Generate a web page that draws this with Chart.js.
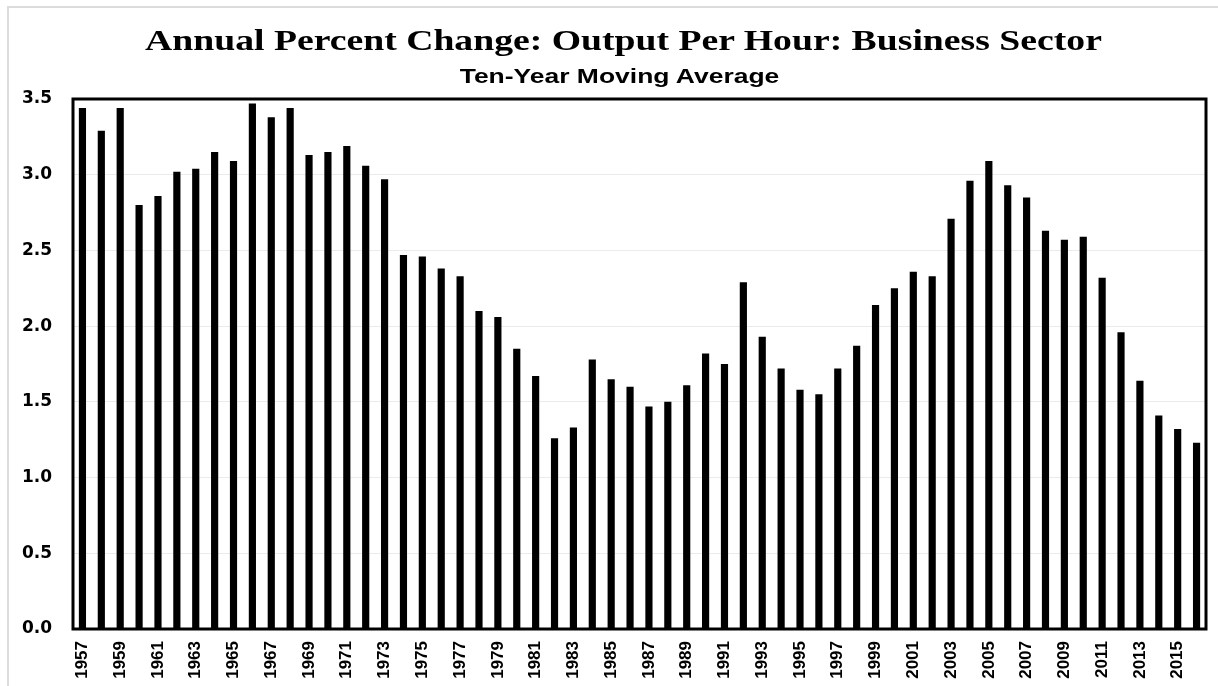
<!DOCTYPE html>
<html>
<head>
<meta charset="utf-8">
<title>Output Per Hour: Business Sector</title>
<script src="https://cdn.jsdelivr.net/npm/chart.js@4.4.1/dist/chart.umd.min.js"></script>
<style>
  html, body { margin: 0; padding: 0; background: #fff; }
  #wrap { position: relative; width: 1218px; height: 686px; overflow: hidden; }
  #frame { position: absolute; left: 7px; top: 6px; width: 1400px; height: 900px;
           border-top: 2px solid #dcdcdc; border-left: 2px solid #dcdcdc; }
  canvas { position: absolute; left: 0; top: 0; }
  .head { position: absolute; left: 0; text-align: center; color: #000; font-weight: bold;
          line-height: 1; white-space: nowrap; }
  #title { top: 26px; width: 1247px; font: bold 29px/1 "Liberation Serif", "Times New Roman", serif;
           transform: scaleX(1.3); }
  #subtitle { top: 65px; width: 1239px; font: bold 21px/1 "Liberation Sans", Arial, sans-serif;
              transform: scaleX(1.26); }
</style>
</head>
<body>
<div id="wrap">
  <div id="frame"></div>
  <canvas id="chart" width="1218" height="686"></canvas>
  <div id="title" class="head"></div>
  <div id="subtitle" class="head"></div>
</div>
<script>
var years = [];
for (var y = 1957; y <= 2016; y++) years.push(String(y));

// ten-year moving average, % change
var outputPerHour = [
  3.44, 3.29, 3.44, 2.80, 2.86, 3.02, 3.04, 3.15, 3.09, 3.47,
  3.38, 3.44, 3.13, 3.15, 3.19, 3.06, 2.97, 2.47, 2.46, 2.38,
  2.33, 2.10, 2.06, 1.85, 1.67, 1.26, 1.33, 1.78, 1.65, 1.60,
  1.47, 1.50, 1.61, 1.82, 1.75, 2.29, 1.93, 1.72, 1.58, 1.55,
  1.72, 1.87, 2.14, 2.25, 2.36, 2.33, 2.71, 2.96, 3.09, 2.93,
  2.85, 2.63, 2.57, 2.59, 2.32, 1.96, 1.64, 1.41, 1.32, 1.23
];

var yMin = 0;
var yMax = 3.5;
var yStep = 0.5;

var titleText = 'Annual Percent Change: Output Per Hour: Business Sector';
var subtitleText = 'Ten-Year Moving Average';

document.getElementById('title').textContent = titleText;
document.getElementById('subtitle').textContent = subtitleText;

// Chart.js only draws the axis sides, so box the whole plot area
var plotBorder = {
  id: 'plotBorder',
  afterDraw: function(chart) {
    var a = chart.chartArea;
    var ctx = chart.ctx;
    ctx.save();
    ctx.strokeStyle = '#000';
    ctx.lineWidth = 3;
    ctx.strokeRect(a.left, a.top, a.right - a.left, a.bottom - a.top);
    ctx.restore();
  }
};

var ctx = document.getElementById('chart').getContext('2d');
var chart = new Chart(ctx, {
  type: 'bar',
  data: {
    labels: years,
    datasets: [{
      label: 'Output per hour',
      data: outputPerHour,
      backgroundColor: '#000',
      borderWidth: 0,
      categoryPercentage: 1,
      barPercentage: 0.38
    }]
  },
  options: {
    responsive: false,
    animation: false,
    layout: { padding: { left: 0, right: 12, top: 99, bottom: 0 } },
    plugins: {
      legend: { display: false },
      tooltip: { enabled: false }
    },
    scales: {
      x: {
        grid: { display: false, drawTicks: false },
        border: { display: false },
        afterFit: function(scale) {
          scale.height = 57;
          scale.paddingLeft = 0;
          scale.paddingRight = 0;
        },
        ticks: {
          autoSkip: false,
          minRotation: 90,
          maxRotation: 90,
          padding: 12,
          color: '#000',
          font: { family: '"Liberation Sans", Arial, sans-serif', size: 17, weight: 'bold' },
          callback: function(value, index) {
            return index % 2 === 0 ? years[index] : '';
          }
        }
      },
      y: {
        min: yMin,
        max: yMax,
        grid: { color: '#ebebeb', lineWidth: 1, drawTicks: false },
        border: { display: false },
        afterFit: function(scale) { scale.width = 73; },
        ticks: {
          stepSize: yStep,
          padding: 21,
          color: '#000',
          font: { family: '"DejaVu Sans", sans-serif', size: 17, weight: 'bold' },
          callback: function(value) { return Number(value).toFixed(1); }
        }
      }
    }
  },
  plugins: [plotBorder]
});
</script>
</body>
</html>
